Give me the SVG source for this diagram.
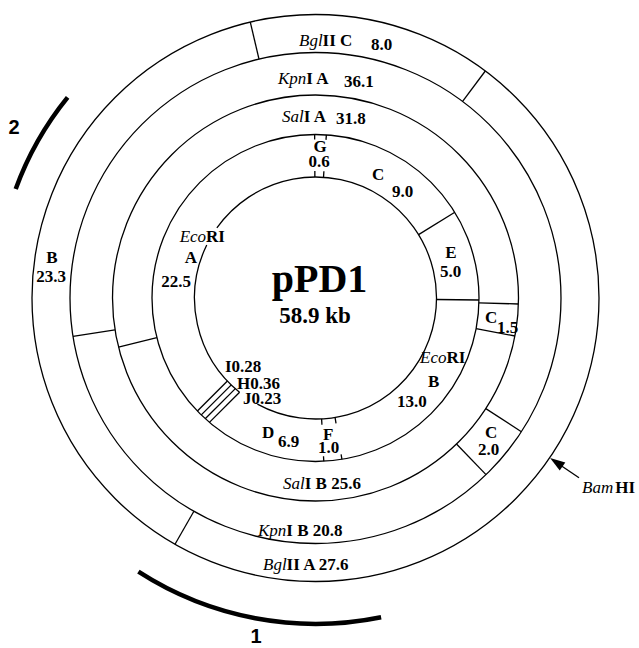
<svg xmlns="http://www.w3.org/2000/svg" width="639" height="648" viewBox="0 0 639 648">
<style>
.ring{fill:none;stroke:#000;stroke-width:1.3}
.seg{stroke:#000;stroke-width:1.3;fill:none}
.thick{fill:none;stroke:#000;stroke-width:4.5}
text{font-family:"Liberation Serif","Times New Roman",serif;font-weight:bold;font-size:17px;fill:#000}
.it{font-style:italic;font-weight:normal}
.num{font-family:"Liberation Sans",Arial,sans-serif;font-weight:bold;font-size:20px}
</style>
<rect width="639" height="648" fill="#fff"/>
<g id="rings">
<circle class="ring" cx="315.5" cy="298" r="283.5"/>
<circle class="ring" cx="315.5" cy="298" r="245.5"/>
<circle class="ring" cx="315.5" cy="298" r="203"/>
<circle class="ring" cx="315.5" cy="298" r="163.5"/>
<path class="ring" d="M239.52,392.17 A121,121 0 0 1 206.75,244.96"/>
<path class="ring" d="M216.87,227.91 A121,121 0 1 1 257.39,404.14"/>
</g>
<g id="connectors">
<line class="seg" x1="259.0" y1="59.1" x2="250.3" y2="22.1"/>
<line class="seg" x1="462.6" y1="101.4" x2="485.3" y2="71.0"/>
<line class="seg" x1="193.9" y1="511.2" x2="175.0" y2="544.2"/>
<line class="seg" x1="485.8" y1="408.6" x2="521.4" y2="431.7"/>
<line class="seg" x1="456.5" y1="444.0" x2="486.0" y2="474.6"/>
<line class="seg" x1="115.0" y1="329.8" x2="73.0" y2="336.4"/>
<line class="seg" x1="478.9" y1="302.9" x2="518.4" y2="304.0"/>
<line class="seg" x1="476.1" y1="328.6" x2="514.9" y2="336.0"/>
<line class="seg" x1="156.9" y1="337.6" x2="118.5" y2="347.1"/>
<line class="seg" x1="418.6" y1="234.6" x2="454.8" y2="212.3"/>
<line class="seg" x1="436.5" y1="299.5" x2="479.0" y2="300.0"/>
<line class="seg" x1="227.4" y1="381.0" x2="197.4" y2="411.0"/>
<line class="seg" x1="231.3" y1="384.9" x2="201.3" y2="414.9"/>
<line class="seg" x1="235.35" y1="388.65" x2="205.2" y2="418.8"/>
<line class="seg" x1="239.6" y1="392.2" x2="209.4" y2="422.4"/>
<line class="seg" x1="314.64" y1="134.5" x2="314.67" y2="139.5"/>
<line class="seg" x1="326.34" y1="134.86" x2="326.0" y2="139.85"/>
<line class="seg" x1="314.87" y1="177" x2="314.84" y2="171"/>
<line class="seg" x1="323.52" y1="177.27" x2="323.92" y2="171.28"/>
<line class="seg" x1="335.05" y1="417.41" x2="336.02" y2="423.33"/>
<line class="seg" x1="321.62" y1="418.85" x2="321.92" y2="424.84"/>
<line class="seg" x1="341.92" y1="459.35" x2="341.11" y2="454.42"/>
<line class="seg" x1="323.77" y1="461.29" x2="323.52" y2="456.30"/>
<line class="seg" x1="562" y1="466.2" x2="579" y2="477.8"/>
<polygon points="550.1,458.1 559.7,470.6 565.3,462.4" fill="#000"/>
<path class="thick" d="M381.1,617.3 A327,327 0 0 1 138.4,571.7"/>
<path class="thick" d="M15.7,188.9 A319,319 0 0 1 67.6,97.3"/>
</g>
<g id="labels">
<text x="299" y="46"><tspan class="it">Bgl</tspan>II C</text>
<text x="371" y="50">8.0</text>
<text x="278" y="84"><tspan class="it">Kpn</tspan>I A</text>
<text x="344" y="87">36.1</text>
<text x="282" y="122"><tspan class="it">Sal</tspan>I A</text>
<text x="336" y="124">31.8</text>
<text x="320" y="152" text-anchor="middle">G</text>
<text x="319" y="167" text-anchor="middle">0.6</text>
<text x="372" y="180">C</text>
<text x="392" y="197">9.0</text>
<text x="451" y="258" text-anchor="middle">E</text>
<text x="440" y="277">5.0</text>
<text x="420" y="363"><tspan class="it">Eco</tspan>RI</text>
<text x="428" y="387">B</text>
<text x="397" y="407">13.0</text>
<text x="485" y="323">C</text>
<text x="497" y="333">1.5</text>
<text x="485" y="438">C</text>
<text x="478" y="455">2.0</text>
<text x="582" y="493"><tspan class="it">Bam</tspan><tspan dx="2">HI</tspan></text>
<text x="262" y="438">D</text>
<text x="278" y="447">6.9</text>
<text x="323" y="440">F</text>
<text x="318" y="453">1.0</text>
<text x="225" y="372">I0.28</text>
<text x="237" y="389">H0.36</text>
<text x="243" y="404">J0.23</text>
<text x="283" y="489"><tspan class="it">Sal</tspan>I B 25.6</text>
<text x="258" y="536"><tspan class="it">Kpn</tspan>I B 20.8</text>
<text x="263" y="570"><tspan class="it">Bgl</tspan>II A 27.6</text>
<text x="52" y="263" text-anchor="middle">B</text>
<text x="51" y="282" text-anchor="middle">23.3</text>
<text x="225" y="242" text-anchor="end"><tspan class="it">Eco</tspan>RI</text>
<text x="191" y="263" text-anchor="middle">A</text>
<text x="176" y="287" text-anchor="middle">22.5</text>
<text x="319.5" y="292" text-anchor="middle" style="font-size:40px">pPD1</text>
<text x="315" y="323" text-anchor="middle" style="font-size:23px">58.9 kb</text>
<text class="num" x="14" y="134" text-anchor="middle">2</text>
<text class="num" x="256" y="643" text-anchor="middle">1</text>
</g>
</svg>
